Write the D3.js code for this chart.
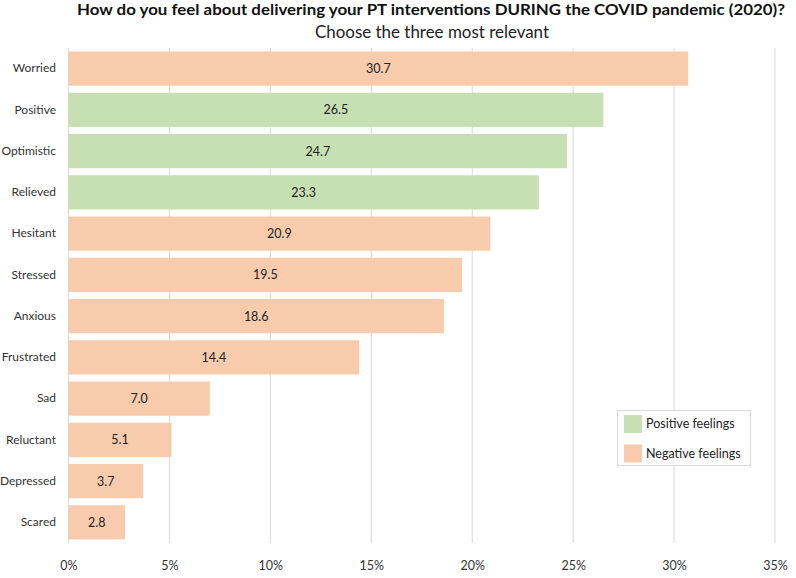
<!DOCTYPE html>
<html><head><meta charset="utf-8">
<script src="https://cdn.jsdelivr.net/npm/d3@7"></script>
<style>body{margin:0;background:#fff;} svg{display:block;}</style>
</head><body>
<svg id="chart" width="796" height="578"></svg>
<script>
const categories = ["Worried","Positive","Optimistic","Relieved","Hesitant","Stressed","Anxious","Frustrated","Sad","Reluctant","Depressed","Scared"];
const values = [30.7,26.5,24.7,23.3,20.9,19.5,18.6,14.4,7.0,5.1,3.7,2.8];
const feelingType = ["Negative","Positive","Positive","Positive","Negative","Negative","Negative","Negative","Negative","Negative","Negative","Negative"];
const tickValues = [0,5,10,15,20,25,30,35];
const legendLabels = ["Positive feelings","Negative feelings"];
const titleText = "How do you feel about delivering your PT interventions DURING the COVID pandemic (2020)?";
const subtitleText = "Choose the three most relevant";

const colors = {Positive:"#c6e0b4", Negative:"#f8cbad"};
const font = "Lato, 'Open Sans', sans-serif";
const svg = d3.select("#chart");
const margin = {left:68.5, right:21, top:48, bottom:35};
const W = 796, H = 578;

const x = d3.scaleLinear().domain([0,35]).range([margin.left, W-margin.right]);
const y = d3.scaleBand().domain(categories).range([margin.top, H-margin.bottom]).paddingInner(0.17).paddingOuter(0.085);

// gridlines
svg.append("g").selectAll("line").data(tickValues).join("line")
  .attr("x1",d=>x(d)).attr("x2",d=>x(d))
  .attr("y1",margin.top).attr("y2",H-margin.bottom)
  .attr("stroke","#d9d9d9").attr("stroke-width",1);

// bars
svg.append("g").selectAll("rect").data(categories).join("rect")
  .attr("x",x(0)).attr("y",d=>y(d))
  .attr("width",(d,i)=>x(values[i])-x(0))
  .attr("height",y.bandwidth())
  .attr("fill",(d,i)=>colors[feelingType[i]]);

// value labels
svg.append("g").selectAll("text").data(categories).join("text")
  .attr("x",(d,i)=>(x(0)+x(values[i]))/2)
  .attr("y",d=>y(d)+y.bandwidth()/2)
  .attr("dy","0.35em").attr("text-anchor","middle")
  .attr("font-family",font).attr("font-size",12.5).attr("fill","#222")
  .text((d,i)=>values[i].toFixed(1));

// category axis
const yAxis = svg.append("g").attr("transform",`translate(${margin.left},0)`)
  .call(d3.axisLeft(y).tickSize(0).tickPadding(12.5));
yAxis.select(".domain").remove();
yAxis.selectAll("text").attr("font-family",font).attr("font-size",12).attr("fill","#333");

// x axis
const xAxis = svg.append("g").attr("transform",`translate(0,${H-margin.bottom})`)
  .call(d3.axisBottom(x).tickValues(tickValues).tickFormat(d=>d+"%").tickSize(0).tickPadding(18));
xAxis.select(".domain").remove();
xAxis.selectAll("text").attr("font-family",font).attr("font-size",12.5).attr("fill","#333");

// title
svg.append("text").attr("x",431).attr("y",14.5).attr("text-anchor","middle")
  .attr("font-family",font).attr("font-weight","bold").attr("font-size",16).attr("fill","#111")
  .attr("textLength",708).attr("lengthAdjust","spacingAndGlyphs")
  .text(titleText);
svg.append("text").attr("x",432).attr("y",37.5).attr("text-anchor","middle")
  .attr("font-family",font).attr("font-size",16.5).attr("fill","#222")
  .attr("textLength",234).attr("lengthAdjust","spacingAndGlyphs")
  .text(subtitleText);

// legend
const lg = svg.append("g");
lg.append("rect").attr("x",617.5).attr("y",410.5).attr("width",133).attr("height",55)
  .attr("fill","#fff").attr("stroke","#d9d9d9");
const lgTypes = ["Positive","Negative"];
lgTypes.forEach((k,i)=>{
  lg.append("rect").attr("x",624).attr("y",415+i*29.5).attr("width",18).attr("height",18).attr("fill",colors[k]);
  lg.append("text").attr("x",646).attr("y",424+i*29.5).attr("dy","0.35em")
    .attr("font-family",font).attr("font-size",12.5).attr("fill","#222").text(legendLabels[i]);
});
</script>
</body></html>
